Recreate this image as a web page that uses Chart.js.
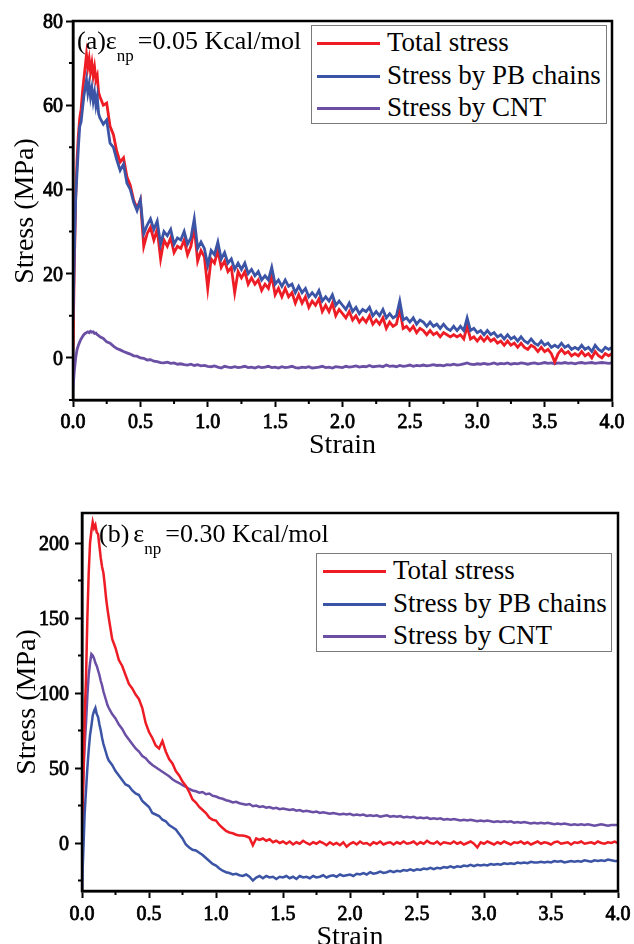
<!DOCTYPE html>
<html>
<head>
<meta charset="utf-8">
<script src="https://cdn.jsdelivr.net/npm/chart.js@4.4.0/dist/chart.umd.min.js"></script>
<style>
html,body{margin:0;padding:0;width:634px;height:944px;overflow:hidden;background:#fff;font-family:'Liberation Serif','Times New Roman',serif;color:#000;}
.panel{position:absolute;left:0;width:634px;}
#pa{top:0;height:460px;}
#pb{top:466px;height:486px;}
canvas{display:block;position:absolute;left:0;top:0;}
.legend{position:absolute;border:1px solid #7a7a7a;background:#fff;width:296px;height:99px;box-sizing:border-box;}
.sw{position:absolute;height:3px;width:63px;}
.lt{position:absolute;font-size:27px;line-height:27px;white-space:nowrap;}
.ann{position:absolute;font-size:26px;line-height:26px;white-space:nowrap;}
.ann .sub{font-size:17px;position:relative;top:12px;}
.tk{position:absolute;font-family:'Liberation Serif','Times New Roman',serif;font-weight:normal;font-size:20px;line-height:20px;white-space:nowrap;-webkit-text-stroke:0.8px #000;}
.ttl{position:absolute;font-family:'Liberation Serif','Times New Roman',serif;font-size:28px;line-height:28px;white-space:nowrap;}
</style>
</head>
<body>
<div class="panel" id="pa"><canvas id="ca" width="634" height="460" style="width:634px;height:460px"></canvas></div>
<div class="panel" id="pb"><canvas id="cb" width="634" height="486" style="width:634px;height:486px"></canvas></div>

<div class="ann" style="left:77px;top:28px;">(a)ε<span class="sub" style="margin-right:4px">np</span>=0.05 Kcal/mol</div>
<div class="ann" style="left:99px;top:521px;">(b)<span style="margin-left:4px">ε</span><span class="sub" style="margin-right:4px">np</span>=0.30 Kcal/mol</div>

<div class="legend" style="left:311px;top:25px;">
  <div class="sw" style="left:5px;top:16px;background:#ee1c24"></div><div class="lt" style="left:75px;top:3px;">Total stress</div>
  <div class="sw" style="left:5px;top:49px;background:#3b54a5"></div><div class="lt" style="left:75px;top:36px;">Stress by PB chains</div>
  <div class="sw" style="left:5px;top:81px;background:#6b4fa5"></div><div class="lt" style="left:75px;top:68px;">Stress by CNT</div>
</div>
<div class="legend" style="left:316px;top:553px;">
  <div class="sw" style="left:6px;top:16px;background:#ee1c24"></div><div class="lt" style="left:76px;top:3px;">Total stress</div>
  <div class="sw" style="left:6px;top:49px;background:#3b54a5"></div><div class="lt" style="left:76px;top:36px;">Stress by PB chains</div>
  <div class="sw" style="left:6px;top:81px;background:#6b4fa5"></div><div class="lt" style="left:76px;top:68px;">Stress by CNT</div>
</div>

<script>
// ---------------- data ----------------
const strain = [0,0.01,0.02,0.03,0.04,0.05,0.06,0.07,0.08,0.09,0.10,0.11,0.12,0.13,0.14,0.15,0.16,0.17,0.18,0.19,0.20,
0.225,0.25,
0.275,0.3,0.325,0.35,0.375,0.4,0.425,0.45,0.475,0.5,
0.525,0.55,0.575,0.6,0.625,0.65,0.675,0.7,0.725,0.75,
0.775,0.8,0.825,0.85,0.875,0.9,0.925,0.95,0.975,1.0,
1.025,1.05,1.075,1.1,1.125,1.15,1.175,1.2,1.225,1.25,
1.275,1.3,1.325,1.35,1.375,1.4,1.425,1.45,1.475,1.5,
1.525,1.55,1.575,1.6,1.625,1.65,1.675,1.7,1.725,1.75,
1.775,1.8,1.825,1.85,1.875,1.9,1.925,1.95,1.975,2.0,
2.025,2.05,2.075,2.1,2.125,2.15,2.175,2.2,2.225,2.25,
2.275,2.3,2.325,2.35,2.375,2.4,2.425,2.45,2.475,2.5,
2.525,2.55,2.575,2.6,2.625,2.65,2.675,2.7,2.725,2.75,
2.775,2.8,2.825,2.85,2.875,2.9,2.925,2.95,2.975,3.0,
3.025,3.05,3.075,3.1,3.125,3.15,3.175,3.2,3.225,3.25,
3.275,3.3,3.325,3.35,3.375,3.4,3.425,3.45,3.475,3.5,
3.525,3.55,3.575,3.6,3.625,3.65,3.675,3.7,3.725,3.75,
3.775,3.8,3.825,3.85,3.875,3.9,3.925,3.95,3.975,4.0];

// Panel (a): eps_np = 0.05 Kcal/mol
const totalA = [2,22,38,47,53,57,59,63,66,69,72,69,71,68,70,67,69,66,67,63,62,
60,60.5,
55,53,49,46.5,47.5,43,41,37.5,35.5,37.5,
26.5,29.5,31,28,30.5,23.5,28,26.5,28.5,25,
26.5,26,28,24.5,26.5,31,23,25.5,24,16.5,
23.5,22.5,25.5,21.5,23,20.5,21.5,15.5,20.5,19,
20.5,17.5,19,17.5,18.5,16,17.5,16.5,19.5,15,
16.5,14.5,16.5,14.5,15.5,13,15,13,14.5,12,
13.5,12.5,14,11,12.5,11,13,10,11.5,10.5,
9.5,11,9,10,8.5,9.5,8.5,10,8,9,
8,9.5,7,8.5,7.5,8,11.5,7,7.5,6.5,
7.5,6,7,6.5,5.5,6.5,5.5,6,5,6,
5.5,5,5.5,5,5.5,4.5,7.5,4.5,5,4,
5,4,5,4,4.5,3.5,4,3,4,3,
3.5,2.5,3.5,2.5,2,3,2.5,1.5,2.5,1.5,
2,1,-1,1,2,1,1.5,0.5,1,0.5,
1.5,0.5,1,0,1.5,0.5,0,1,0.5,1];

const pbA = [9,25,38,44,50,55,56,59,62,64,66,63,65,62,64,61,63,60,62,58,57,
55.5,56.5,
51,50,47,44.5,46,41.5,40,37,35,37.5,
29.5,31.5,33,30.5,32.5,27,30,29,30.5,27,
28.5,28,30,27,28.5,33,26,27.5,26,22,
25.5,24.5,27.5,23.5,25,22.5,23.5,21,22.5,21,
22.5,20,21,19.5,20.5,18.5,19.5,18.5,21.5,17.5,
18.5,17,18.5,17,17.5,15.5,17,15.5,16.5,14.5,
15.5,14.5,16,13.5,14.5,13.5,15,12.5,13.5,12.5,
11.5,13,11,12,10.5,11.5,11,12,10,11,
10,11.5,9.5,10.5,9.5,10,13.5,9,9.5,8.5,
9.5,8,9,8.5,7.5,8.5,7.5,8,7,8,
7,6.5,7.5,6.5,7.5,6.5,9.5,6.5,7,6,
6.5,5.5,6.5,5.5,6,5,5.5,4.5,5.5,4.5,
5,4,5,4,3.5,4.5,3.5,3,4,3,
3.5,2.5,3,2.5,3.5,2.5,3,2,2.5,2,
3,2,2.5,1.5,3,2,1.5,2.5,2,2.5];

const cntA = [-7.4,-3,0,2,3,3.8,4.5,5,5.5,5.8,6,6.2,6,6.3,6.1,6.2,5.8,5.9,5.5,5.3,5,
4.6,3.8,
3.5,2.8,2.2,1.9,1.5,1.2,0.9,0.5,0.4,0,
-0.1,-0.5,-0.4,-0.8,-0.9,-1.1,-1.2,-1.0,-1.3,-1.2,
-1.5,-1.4,-1.6,-1.7,-1.5,-1.8,-1.6,-1.9,-1.8,-2.0,
-2.1,-1.9,-2.2,-2.4,-2.0,-2.2,-2.3,-2.1,-2.3,-2.2,
-2.0,-2.3,-2.2,-2.4,-2.1,-2.3,-2.2,-2.0,-2.3,-2.2,
-2.4,-2.1,-2.3,-2.2,-2.0,-2.3,-2.4,-2.2,-2.3,-2.1,
-2.4,-2.3,-2.2,-2.0,-2.3,-2.2,-2.4,-2.1,-2.2,-2.3,
-2.0,-2.2,-2.1,-1.9,-2.2,-2.0,-2.1,-1.8,-2.1,-2.0,
-1.9,-2.1,-1.7,-2.0,-1.9,-2.1,-1.8,-2.0,-1.9,-1.7,
-2.0,-1.8,-1.9,-1.7,-1.9,-1.8,-1.6,-1.8,-1.7,-1.9,
-1.6,-1.7,-1.5,-1.7,-1.6,-1.4,-1.2,-1.5,-1.6,-1.4,
-1.5,-1.3,-1.5,-1.4,-1.2,-1.5,-1.3,-1.4,-1.2,-1.5,
-1.3,-1.4,-1.2,-1.3,-1.5,-1.3,-1.2,-1.4,-1.3,-1.1,
-1.3,-1.2,-1.4,-1.2,-1.3,-1.1,-1.3,-1.2,-1.4,-1.2,
-1.1,-1.3,-1.2,-1.1,-1.3,-1.2,-1.1,-1.2,-1.3,-1.2];

// Panel (b): eps_np = 0.30 Kcal/mol
const totalB = [-4,40,85,110,150,180,200,208,214,210,212,207,206,198,190,184,180,172,163,156,150,
136,130,
122,118,112,106,103,99,96,90,80,74,
70,65,63,68,61,56,53,48,45,41,
38,34,29,27,24,22,20,17,15.5,15,
12,10,8,7,6.5,5.5,5,5,4.5,3.5,
-1.5,3,2,3,1.5,2.5,0.5,1.5,0,1,
-0.5,1,-1,0.5,-0.5,1.5,0,-1,0.5,-0.5,
1,0,-1.5,0.5,-1,0,-1.5,0.5,-2.5,-0.5,
0.5,-1,1,-0.5,0,-1.5,0.5,-0.5,1,-1,
0,0.5,-1,0.5,-0.5,1,-0.5,0,1,-1,
0.5,-0.5,1.5,0,-0.5,1,-1,0.5,0,-0.5,
1,-0.5,0.5,-1,0,1,-0.5,-3,0.5,-0.5,
1,0,-1,0.5,-0.5,1,0,-1,0.5,0,
1,-0.5,0.5,-1,0,1,-0.5,0.5,0,-1,
0.5,1,-0.5,0,0.5,-1,0.5,0,1,-0.5,
0,0.5,-0.5,1,0,-0.5,0.5,0,1,0];

const pbB = [-31,-5,20,35,50,62,72,78,85,88,90,86,84,79,75,70,66,63,60,57,55,
52,48,
45,42,39,38,35,33,32,28,26,24,
20,19,18,15.5,14.5,12,10.5,9,6,3,
-1,-3,-4.5,-5,-6.5,-8,-10,-12,-14,-15,
-17,-18.5,-19.5,-20,-21,-20.5,-21.5,-22,-21,-22.5,
-25,-23,-22,-23.5,-22,-23,-22.5,-24,-22.5,-23,
-22,-23.5,-22.5,-24,-22,-23,-22.5,-23.5,-22,-23,
-22.5,-21.5,-23,-22,-21.5,-22.5,-21,-22,-21.5,-21,
-22,-20.5,-21,-20,-21,-19.5,-20.5,-20,-19,-20,
-19.5,-18.5,-19.5,-18.5,-19,-18,-18.5,-17.5,-18.5,-17.5,
-18,-17,-17.5,-16.5,-17.5,-16.5,-17,-16,-16.5,-15.5,
-16.5,-15.5,-16,-15,-15.5,-14.5,-15.5,-14.5,-15,-14.5,
-15,-14,-14.5,-14,-14.5,-13.5,-14,-13.5,-14,-13,
-13.5,-13,-13.5,-12.5,-13,-13,-12.5,-13,-12.5,-13,
-12,-12.5,-12,-13,-12.5,-12,-12.5,-12,-12.5,-11.5,
-12,-12.5,-11.5,-12,-11.5,-12,-11,-11.5,-12,-12];

const cntB = [27,45,65,80,98,112,120,126,125,123,120,118,115,112,108,105,101,98,95,92,90,
86,83,
79,76,72,69,66,63,61,58,56.5,54,
52,50.5,49,47.5,46,44.5,42.5,41,40,38.5,
37.5,36,35,34.5,33.5,34,32.5,33,31.5,31,
30,29.5,28.5,28,27,27.5,26.5,26,25.5,26,
24.5,25,24,24.5,23.5,24,23,23.5,22.5,23,
22.5,22,22.5,21.5,22,21,21.5,21,20.5,21,
20,20.5,20,19.5,20,19.5,19,19.5,19,19.5,
18.5,19,18.5,19,18,18.5,18,18.5,17.5,18,
18.5,17.5,18,17.5,18,17,17.5,17,17.5,16.5,
17,16.5,17,16,16.5,16,16.5,15.5,16,15.5,
16,15.5,15,15.5,15,15.5,15,14.5,15,14.5,
15,14.5,14,14.5,14,14.5,14,14.5,13.5,14,
13.5,14,13.5,13,13.5,13,13.5,13,13.5,13,
12.5,13,12.5,13,12.5,12,12.5,12,12.5,12,
12.5,12,11.5,12,12.5,12,11.5,12,12,12];

const seriesNames = ['Total stress','Stress by PB chains','Stress by CNT'];
const xTicks = [0,0.5,1.0,1.5,2.0,2.5,3.0,3.5,4.0];
const xMinor = [0.25,0.75,1.25,1.75,2.25,2.75,3.25,3.75];
const yTicksA = [0,20,40,60,80];
const yMinorA = [-10,10,30,50,70];
const yTicksB = [0,50,100,150,200];
const yMinorB = [-25,25,75,125,175];
const xTitle = 'Strain';
const yTitle = 'Stress (MPa)';

// ---------------- drawing ----------------
const RED = '#ee1c24', BLUE = '#3b54a5', PURPLE = '#6b4fa5';

[totalA,pbA,cntA,totalB,pbB,cntB].forEach((a,i)=>{ if(a.length!==strain.length) console.error('length mismatch', i, a.length, strain.length); });

const frameMinor = {
  id: 'frameMinor',
  afterDatasetsDraw(chart, args, opts) {
    const {ctx, chartArea: a, scales: {x, y}} = chart;
    ctx.save();
    ctx.strokeStyle = '#000';
    ctx.lineWidth = 2.5;
    ctx.strokeRect(a.left, a.top, a.right - a.left, a.bottom - a.top);
    ctx.lineWidth = 2;
    ctx.beginPath();
    opts.xMinor.forEach(v => { const p = x.getPixelForValue(v); ctx.moveTo(p, a.bottom); ctx.lineTo(p, a.bottom + 4); });
    opts.yMinor.forEach(v => { const p = y.getPixelForValue(v); ctx.moveTo(a.left, p); ctx.lineTo(a.left - 4, p); });
    ctx.stroke();
    ctx.restore();
  }
};

function ds(label, ys, color, order, w) {
  return { label, data: strain.map((s, i) => ({x: s, y: ys[i]})), borderColor: color, backgroundColor: color,
           borderWidth: w, pointRadius: 0, tension: 0, order, fill: false };
}

function makeChart(id, cfg) {
  return new Chart(document.getElementById(id), {
    type: 'line',
    data: { datasets: [
      ds(seriesNames[0], cfg.total, RED, 1, cfg.lw),
      ds(seriesNames[1], cfg.pb, BLUE, 0, cfg.lw),
      ds(seriesNames[2], cfg.cnt, PURPLE, 2, cfg.lw)
    ]},
    options: {
      responsive: false, animation: false, devicePixelRatio: 1,
      layout: { padding: cfg.padding },
      plugins: { legend: {display: false}, tooltip: {enabled: false}, title: {display: false},
                 frameMinor: { xMinor: xMinor, yMinor: cfg.yMinor } },
      scales: {
        x: {
          type: 'linear', min: 0, max: 4,
          afterBuildTicks: s => { s.ticks = xTicks.map(v => ({value: v})); },
          afterFit: s => { s.height = cfg.xHeight; },
          ticks: { display: false, autoSkip: false },
          grid: { display: true, drawOnChartArea: false, drawTicks: true, tickLength: 7, tickWidth: 2, tickColor: '#000', color: '#000' },
          border: { display: true, color: '#000', width: 2.5 },
          title: { display: false }
        },
        y: {
          type: 'linear', min: cfg.yMin, max: cfg.yMax,
          afterBuildTicks: s => { s.ticks = cfg.yTicks.map(v => ({value: v})); },
          afterFit: s => { s.width = cfg.yWidth; },
          ticks: { display: false, autoSkip: false },
          grid: { display: true, drawOnChartArea: false, drawTicks: true, tickLength: 7, tickWidth: 2, tickColor: '#000', color: '#000' },
          border: { display: true, color: '#000', width: 2.5 },
          title: { display: false }
        }
      }
    },
    plugins: [frameMinor]
  });
}

// tick labels and axis titles as real text, placed from the chart's own scales
function addText(txt, cls, style) {
  const d = document.createElement('div');
  d.className = cls; d.textContent = txt;
  Object.assign(d.style, style);
  document.body.appendChild(d);
}
function axisText(chart, offTop, cfg) {
  const {chartArea: a, scales: {x, y}} = chart;
  xTicks.forEach(v => addText(v.toFixed(1), 'tk', {
    left: (x.getPixelForValue(v) - 40) + 'px', width: '80px', textAlign: 'center',
    top: (offTop + a.bottom + cfg.xLabDy - 10) + 'px'}));
  cfg.yTicks.forEach(v => addText(String(v), 'tk', {
    left: (cfg.yLabRight - 80) + 'px', width: '80px', textAlign: 'right',
    top: (offTop + y.getPixelForValue(v) - 10) + 'px'}));
  addText(xTitle, 'ttl', {left: ((a.left + a.right) / 2 - 100) + 'px', width: '200px', textAlign: 'center',
    top: (cfg.xTitleY - 14) + 'px'});
  const cy = offTop + (a.top + a.bottom) / 2;
  addText(yTitle, 'ttl', {left: (cfg.yTitleX - 100) + 'px', width: '200px', textAlign: 'center',
    top: (cy - 14) + 'px', transform: 'rotate(-90deg)'});
}

const chartA = makeChart('ca', { total: totalA, pb: pbA, cnt: cntA, yMin: -10, yMax: 80, yTicks: yTicksA, yMinor: yMinorA, lw: 2.8,
  padding: {left: 0, top: 21, right: 22, bottom: 0}, xHeight: 60, yWidth: 73 });
const chartB = makeChart('cb', { total: totalB, pb: pbB, cnt: cntB, yMin: -32, yMax: 220, yTicks: yTicksB, yMinor: yMinorB, lw: 2.5,
  padding: {left: 0, top: 47, right: 16, bottom: 0}, xHeight: 61, yWidth: 82 });

axisText(chartA, 0,   { yTicks: yTicksA, xLabDy: 20.5, yLabRight: 63, xTitleY: 444, yTitleX: 24 });
axisText(chartB, 466, { yTicks: yTicksB, xLabDy: 21.5, yLabRight: 69, xTitleY: 936, yTitleX: 26 });
</script>
</body>
</html>
